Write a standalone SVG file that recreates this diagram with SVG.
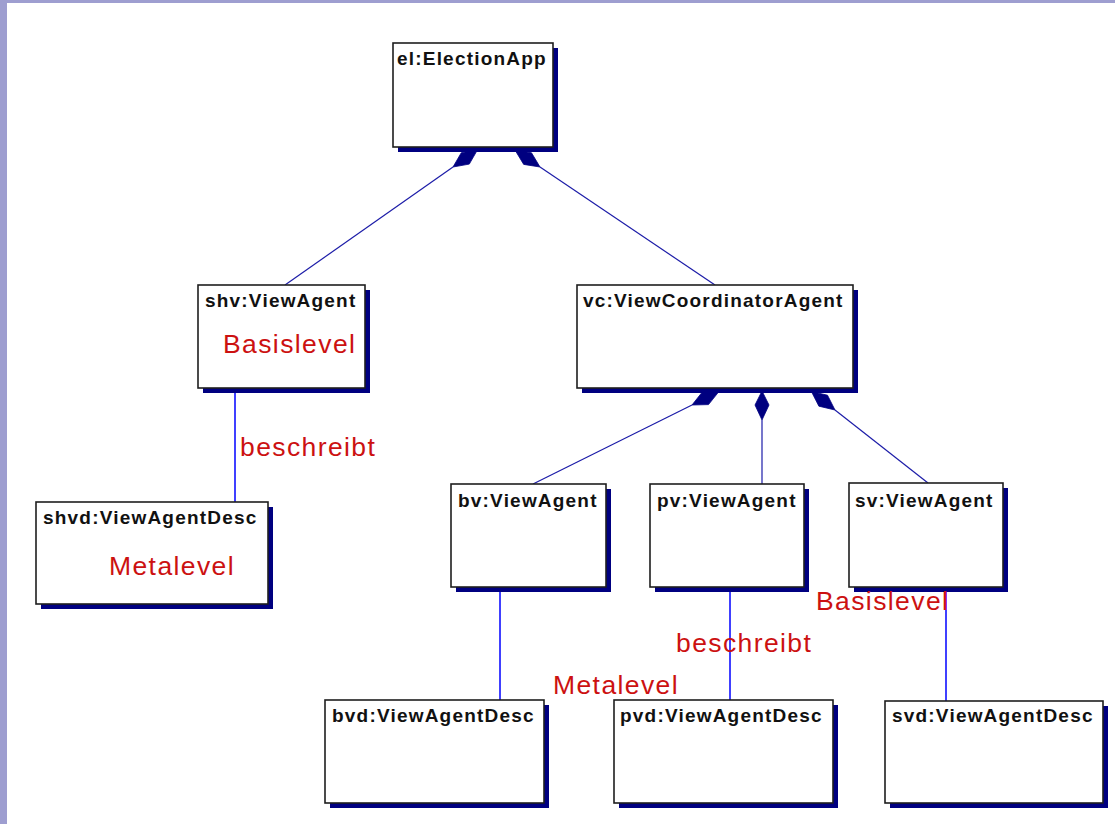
<svg xmlns="http://www.w3.org/2000/svg" width="1115" height="824" viewBox="0 0 1115 824">
  <style>
    .box { fill: #ffffff; stroke: #1e1e1e; stroke-width: 1.6; }
    .shadow { fill: #000080; }
    .title { font-family: "Liberation Sans", Arial, sans-serif; font-weight: bold; font-size: 19px; letter-spacing: 1.2px; fill: #111111; }
    .note { font-family: "Liberation Sans", Arial, sans-serif; font-size: 26.5px; letter-spacing: 1.4px; fill: #cc1111; }
    .comp { stroke: #1c1ca8; stroke-width: 1.2; fill: none; }
    .diamond { fill: #000080; stroke: #000080; stroke-width: 0.8; }
    .link { stroke: #0000ff; stroke-width: 1.5; fill: none; }
  </style>

  <!-- page frame -->
  <rect x="0" y="0" width="1115" height="824" fill="#ffffff"/>
  <rect x="0" y="0" width="1115" height="3" fill="#9e9ed0"/>
  <rect x="0" y="0" width="7" height="824" fill="#9e9ed0"/>

  <!-- connectors: composition (diamond at owner) and description links -->
  <g id="connectors">
    <line class="comp" x1="285" y1="285" x2="453" y2="167"/>
    <path class="diamond" d="M453,167 L461.3,152.7 L477.5,149.8 L469.3,164.1 Z"/>

    <line class="comp" x1="715" y1="285" x2="540" y2="167"/>
    <path class="diamond" d="M540,167 L531.5,152.8 L515.1,150.2 L523.7,164.4 Z"/>

    <line class="comp" x1="533" y1="484" x2="692" y2="405"/>
    <path class="diamond" d="M692,405 L702.3,392 L718.9,391.6 L708.5,404.6 Z"/>

    <line class="comp" x1="762" y1="484" x2="762" y2="420"/>
    <path class="diamond" d="M762,420 L755,405 L762,391 L769,405 Z"/>

    <line class="comp" x1="928" y1="483" x2="835" y2="410"/>
    <path class="diamond" d="M835,410 L827.5,395.2 L811.4,391.5 L818.9,406.2 Z"/>

    <line class="link" x1="235" y1="388" x2="235" y2="502"/>
    <line class="link" x1="500" y1="587" x2="500" y2="700"/>
    <line class="link" x1="730" y1="587" x2="730" y2="700"/>
    <line class="link" x1="946" y1="587" x2="946" y2="701"/>
  </g>

  <!-- objects -->
  <g id="el">
    <rect class="shadow" x="398" y="48" width="160" height="104"/>
    <rect class="box" x="393" y="43" width="160" height="104"/>
    <text class="title" x="397" y="65">el:ElectionApp</text>
  </g>

  <g id="shv">
    <rect class="shadow" x="203" y="290" width="167" height="103"/>
    <rect class="box" x="198" y="285" width="167" height="103"/>
    <text class="title" x="205" y="307">shv:ViewAgent</text>
  </g>

  <g id="vc">
    <rect class="shadow" x="582" y="290" width="276" height="103"/>
    <rect class="box" x="577" y="285" width="276" height="103"/>
    <text class="title" x="583" y="307">vc:ViewCoordinatorAgent</text>
  </g>

  <g id="shvd">
    <rect class="shadow" x="41" y="507" width="232" height="102"/>
    <rect class="box" x="36" y="502" width="232" height="102"/>
    <text class="title" x="43" y="524">shvd:ViewAgentDesc</text>
  </g>

  <g id="bv">
    <rect class="shadow" x="456" y="489" width="155" height="103"/>
    <rect class="box" x="451" y="484" width="155" height="103"/>
    <text class="title" x="458" y="507">bv:ViewAgent</text>
  </g>

  <g id="pv">
    <rect class="shadow" x="655" y="489" width="154" height="103"/>
    <rect class="box" x="650" y="484" width="154" height="103"/>
    <text class="title" x="657" y="507">pv:ViewAgent</text>
  </g>

  <g id="sv">
    <rect class="shadow" x="854" y="488" width="154" height="104"/>
    <rect class="box" x="849" y="483" width="154" height="104"/>
    <text class="title" x="855" y="507">sv:ViewAgent</text>
  </g>

  <g id="bvd">
    <rect class="shadow" x="330" y="705" width="219" height="103"/>
    <rect class="box" x="325" y="700" width="219" height="103"/>
    <text class="title" x="332" y="722">bvd:ViewAgentDesc</text>
  </g>

  <g id="pvd">
    <rect class="shadow" x="619" y="705" width="219" height="103"/>
    <rect class="box" x="614" y="700" width="219" height="103"/>
    <text class="title" x="620" y="722">pvd:ViewAgentDesc</text>
  </g>

  <g id="svd">
    <rect class="shadow" x="890" y="706" width="218" height="102"/>
    <rect class="box" x="885" y="701" width="218" height="102"/>
    <text class="title" x="892" y="722">svd:ViewAgentDesc</text>
  </g>

  <!-- level annotations -->
  <g id="annotations">
    <text class="note" x="223" y="353">Basislevel</text>
    <text class="note" x="109" y="575">Metalevel</text>
    <text class="note" x="240" y="456">beschreibt</text>
    <text class="note" x="816" y="610">Basislevel</text>
    <text class="note" x="676" y="652">beschreibt</text>
    <text class="note" x="553" y="694">Metalevel</text>
  </g>
</svg>
